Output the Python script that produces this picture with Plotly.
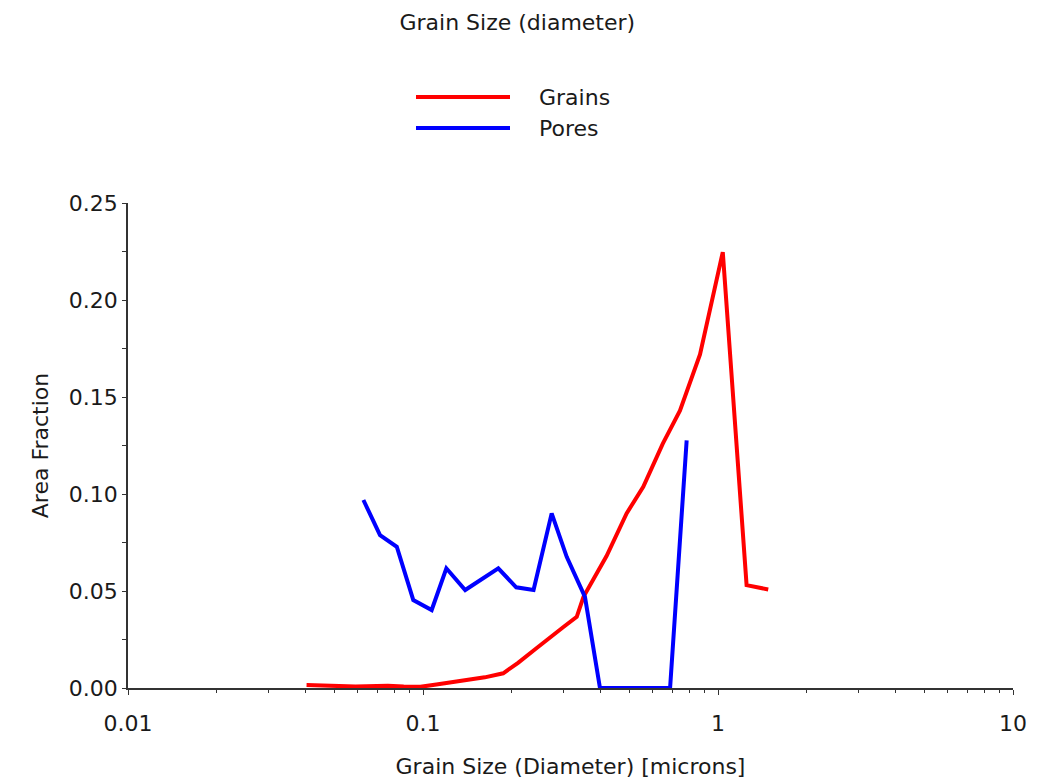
import plotly.graph_objects as go

# ---- data ----
grains_x = [0.0403, 0.046, 0.052, 0.059, 0.067, 0.076, 0.086, 0.098, 0.111, 0.126,
            0.143, 0.162, 0.187, 0.21, 0.24, 0.27, 0.30, 0.332, 0.35, 0.419,
            0.49, 0.558, 0.65, 0.743, 0.869, 1.038, 1.25, 1.48]
grains_y = [0.0015, 0.0015, 0.001, 0.0008, 0.001, 0.0012, 0.0008, 0.0006, 0.0018, 0.003,
            0.004, 0.0055, 0.0076, 0.013, 0.020, 0.0264, 0.0316, 0.0367, 0.047, 0.068,
            0.090, 0.1037, 0.126, 0.143, 0.172, 0.2247, 0.053, 0.0508]

pores_x = [0.0628, 0.0715, 0.0815, 0.0927, 0.107, 0.120, 0.139, 0.180, 0.207, 0.237,
           0.273, 0.307, 0.354, 0.398, 0.45, 0.52, 0.60, 0.688, 0.783]
pores_y = [0.0969, 0.0788, 0.0728, 0.0453, 0.0402, 0.0617, 0.0505, 0.0617, 0.0519, 0.0505,
           0.090, 0.0676, 0.047, 0.0, 0.0, 0.0, 0.0, 0.0, 0.1277]

series_names = ["Grains", "Pores"]
series_colors = ["#FF0000", "#0000FF"]

x_major = [0.01, 0.1, 1, 10]
x_major_labels = ["0.01", "0.1", "1", "10"]
x_minor = [m * 10 ** e for e in (-2, -1, 0) for m in range(2, 10)]
y_major = [0.0, 0.05, 0.10, 0.15, 0.20, 0.25]

FONT = "DejaVu Sans"
FS = 22
TXT = "#1a1a1a"
AX = "#333333"

fig = go.Figure()
for name, xs, ys, col in zip(series_names, [grains_x, pores_x], [grains_y, pores_y], series_colors):
    fig.add_trace(go.Scatter(x=xs, y=ys, mode="lines", name=name,
                             line=dict(color=col, width=4), showlegend=False))

# manual legend (wide line samples like the reference)
PL, PW, PB, PH = 128, 885, 688, 485
legend_rows = [(97, series_names[0], series_colors[0]), (128, series_names[1], series_colors[1])]
for py, name, col in legend_rows:
    yy = (PB - py) / PH
    fig.add_shape(type="line", xref="paper", yref="paper",
                  x0=(416 - PL) / PW, x1=(510 - PL) / PW, y0=yy, y1=yy,
                  line=dict(color=col, width=4))
    fig.add_annotation(xref="paper", yref="paper", x=(537 - PL) / PW, y=yy,
                       text=name, showarrow=False, xanchor="left", yanchor="middle",
                       font=dict(family=FONT, size=FS, color=TXT))

fig.update_layout(
    width=1043, height=784,
    margin=dict(l=128, r=30, t=203, b=96),
    paper_bgcolor="white", plot_bgcolor="white",
    font=dict(family=FONT, size=FS, color=TXT),
    title=dict(text="Grain Size (diameter)", x=0.496, xanchor="center", y=0.972, yanchor="middle",
               font=dict(family=FONT, size=FS, color=TXT)),
    xaxis=dict(type="log", range=[-2, 1], tickvals=x_major, ticktext=x_major_labels,
               ticks="outside", ticklen=5, tickcolor=AX, showline=True, linecolor=AX,
               linewidth=1.5, showgrid=False, zeroline=False, ticklabelstandoff=10,
               automargin=False,
               minor=dict(tickvals=x_minor, ticks="outside", ticklen=3, tickcolor=AX, showgrid=False),
               tickfont=dict(family=FONT, size=FS, color=TXT),
               title=dict(text="Grain Size (Diameter) [microns]", standoff=23,
                          font=dict(family=FONT, size=FS, color=TXT))),
    yaxis=dict(range=[0, 0.25], tickvals=y_major, tickformat=".2f",
               ticks="outside", ticklen=4, tickcolor=AX, showline=True, linecolor=AX,
               linewidth=1.5, showgrid=False, zeroline=False, automargin=False,
               minor=dict(dtick=0.025, ticks="outside", ticklen=4, tickcolor=AX, showgrid=False),
               tickfont=dict(family=FONT, size=FS, color=TXT),
               title=dict(text="Area Fraction", standoff=14,
                          font=dict(family=FONT, size=FS, color=TXT))),
)

fig.write_html("out.html")
